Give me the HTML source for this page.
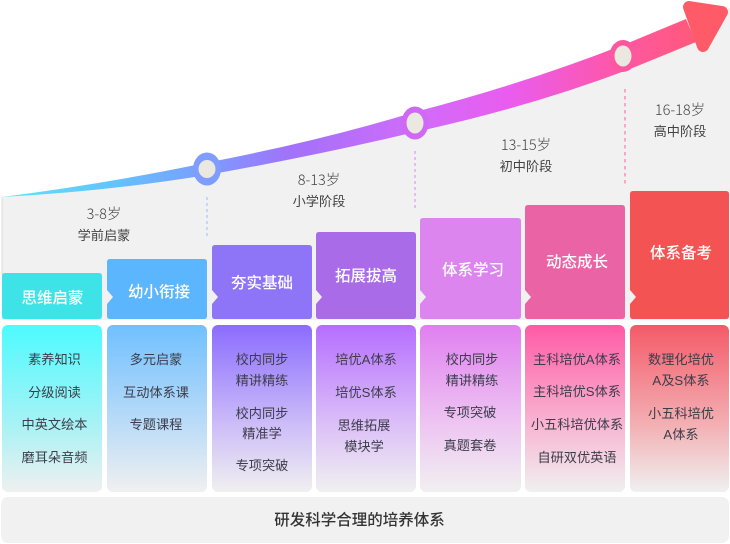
<!DOCTYPE html>
<html><head><meta charset="utf-8"><style>
html,body{margin:0;padding:0;background:#fff;width:730px;height:544px;overflow:hidden}
svg{display:block;filter:blur(0.35px)}
text{font-family:"Liberation Sans","Noto Sans CJK SC",sans-serif;text-anchor:middle}
.h{fill:#fff;font-size:15.5px;font-family:"Noto Sans CJK SC",sans-serif;font-weight:500}
.t{fill:#3d3d4a;font-size:13.2px}
.a{fill:#444;font-size:13.2px}
.n{fill:#444;font-size:14.5px;font-family:"Noto Sans CJK SC",sans-serif;font-weight:300}
</style></head><body>
<svg width="730" height="544" viewBox="0 0 730 544" xmlns="http://www.w3.org/2000/svg">
<defs>
<linearGradient id="arrow" gradientUnits="userSpaceOnUse" x1="0" y1="0" x2="730" y2="0">
<stop offset="0" stop-color="#5fe6f5"/><stop offset=".15" stop-color="#62c4fc"/><stop offset=".28" stop-color="#7b9dff"/><stop offset=".4" stop-color="#a271fa"/><stop offset=".57" stop-color="#d06cfa"/><stop offset=".7" stop-color="#ea5cee"/><stop offset=".85" stop-color="#ff57a5"/><stop offset="1" stop-color="#ff5a68"/>
</linearGradient>
<linearGradient id="g1" x1="0" y1="0" x2="0" y2="1"><stop offset="0" stop-color="#4dfbff"/><stop offset=".6" stop-color="#a8f2f5"/><stop offset="1" stop-color="#f0f0f0"/></linearGradient>
<linearGradient id="g2" x1="0" y1="0" x2="0" y2="1"><stop offset="0" stop-color="#70c0ff"/><stop offset=".6" stop-color="#bcdcf7"/><stop offset="1" stop-color="#f0f0f0"/></linearGradient>
<linearGradient id="g3" x1="0" y1="0" x2="0" y2="1"><stop offset="0" stop-color="#8b6cff"/><stop offset=".6" stop-color="#cdbdf8"/><stop offset="1" stop-color="#f0f0f0"/></linearGradient>
<linearGradient id="g4" x1="0" y1="0" x2="0" y2="1"><stop offset="0" stop-color="#b56eff"/><stop offset=".6" stop-color="#dcc0f8"/><stop offset="1" stop-color="#f0f0f0"/></linearGradient>
<linearGradient id="g5" x1="0" y1="0" x2="0" y2="1"><stop offset="0" stop-color="#e07ff0"/><stop offset=".6" stop-color="#eec6f2"/><stop offset="1" stop-color="#f0f0f0"/></linearGradient>
<linearGradient id="g6" x1="0" y1="0" x2="0" y2="1"><stop offset="0" stop-color="#ff5aa5"/><stop offset=".6" stop-color="#f8b6d2"/><stop offset="1" stop-color="#f0f0f0"/></linearGradient>
<linearGradient id="g7" x1="0" y1="0" x2="0" y2="1"><stop offset="0" stop-color="#f45a68"/><stop offset=".6" stop-color="#f3b0b4"/><stop offset="1" stop-color="#f0f0f0"/></linearGradient>
</defs>

<path d="M2 197 Q110 186 207 168 Q320 148 415 122 Q530 92 624 55 L690 28 L730 8 L730 320 L2 320 Z" fill="#f1f1f1"/>
<path d="M2 197 V275" stroke="#dcdcdc" stroke-width="1"/>

<line x1="207" y1="197" x2="207" y2="238" stroke="#b4c4ff" stroke-width="1.3" stroke-dasharray="3 3"/>
<line x1="415" y1="151" x2="415" y2="208" stroke="#e6a8f8" stroke-width="1.5" stroke-dasharray="3 3"/>
<line x1="625" y1="89" x2="625" y2="184" stroke="#ff8cbc" stroke-width="1.5" stroke-dasharray="3.5 3.5"/>

<path d="M2 197 Q110 183 205 163 Q320 141 415 112 Q530 82 628 43 L686 19 L696 42 L630 69 Q530 107 415 132 Q320 155 207 175 Q110 191 2 197 Z" fill="url(#arrow)"/>
<path d="M689 7 L722 12 L703 46 Z" fill="#ff5a68" stroke="#ff5a68" stroke-width="12" stroke-linejoin="round"/>
<ellipse cx="207" cy="169" rx="14" ry="16.5" fill="#7f9cff"/><ellipse cx="207" cy="169" rx="8.5" ry="9" fill="#ebe8df"/>
<ellipse cx="415" cy="123" rx="13.5" ry="16.5" fill="#cf68f4"/><ellipse cx="415" cy="123" rx="8.5" ry="10.5" fill="#ebe8df"/>
<ellipse cx="623" cy="56" rx="13.5" ry="16" fill="#ff579f"/><ellipse cx="623" cy="56" rx="8.5" ry="10.5" fill="#ebe8df"/>

<text class="n" x="104" y="219">3-8岁</text><text class="a" x="104" y="240">学前启蒙</text>
<text class="n" x="319" y="185">8-13岁</text><text class="a" x="319" y="206">小学阶段</text>
<text class="n" x="526" y="150">13-15岁</text><text class="a" x="526" y="171">初中阶段</text>
<text class="n" x="680" y="115">16-18岁</text><text class="a" x="680" y="136">高中阶段</text>

<path d="M2 276 Q2 273 5 273 H99 Q102 273 102 276 V316 Q102 319 99 319 H5 Q2 319 2 316 Z" fill="#3ee3e8"/>
<path d="M107 262 Q107 259 110 259 H204 Q207 259 207 262 V316 Q207 319 204 319 H110 Q107 319 107 316 V304 L113 297 L107 290 Z" fill="#5cb6fd"/>
<path d="M212 248 Q212 245 215 245 H309 Q312 245 312 248 V316 Q312 319 309 319 H215 Q212 319 212 316 V304 L218 297 L212 290 Z" fill="#8e74f6"/>
<path d="M316 235 Q316 232 319 232 H413 Q416 232 416 235 V316 Q416 319 413 319 H319 Q316 319 316 316 V304 L322 297 L316 290 Z" fill="#a96be8"/>
<path d="M420 221 Q420 218 423 218 H518 Q521 218 521 221 V316 Q521 319 518 319 H423 Q420 319 420 316 V304 L426 297 L420 290 Z" fill="#dd85ee"/>
<path d="M525 208 Q525 205 528 205 H622 Q625 205 625 208 V316 Q625 319 622 319 H528 Q525 319 525 316 V304 L531 297 L525 290 Z" fill="#ea64a5"/>
<path d="M630 194 Q630 191 633 191 H726 Q729 191 729 194 V316 Q729 319 726 319 H633 Q630 319 630 316 V304 L636 297 L630 290 Z" fill="#f45353"/>

<text class="h" x="52.500" y="303">思维启蒙</text>
<text class="h" x="159" y="297">幼小衔接</text>
<text class="h" x="262" y="288">夯实基础</text>
<text class="h" x="366" y="281">拓展拔高</text>
<text class="h" x="473" y="275">体系学习</text>
<text class="h" x="577" y="267">动态成长</text>
<text class="h" x="681" y="258">体系备考</text>

<rect x="2" y="325" width="100" height="167" rx="6" fill="url(#g1)"/>
<rect x="107" y="325" width="100" height="167" rx="6" fill="url(#g2)"/>
<rect x="212" y="325" width="100" height="167" rx="6" fill="url(#g3)"/>
<rect x="316" y="325" width="100" height="167" rx="6" fill="url(#g4)"/>
<rect x="420" y="325" width="101" height="167" rx="6" fill="url(#g5)"/>
<rect x="525" y="325" width="100" height="167" rx="6" fill="url(#g6)"/>
<rect x="630" y="325" width="99" height="167" rx="6" fill="url(#g7)"/>

<text class="t" x="54.500" y="364">素养知识</text><text class="t" x="54.500" y="397">分级阅读</text><text class="t" x="54.500" y="429">中英文绘本</text><text class="t" x="54.500" y="462">磨耳朵音频</text>
<text class="t" x="156" y="364">多元启蒙</text><text class="t" x="156" y="397">互动体系课</text><text class="t" x="156" y="429">专题课程</text>
<text class="t" x="262" y="364">校内同步</text><text class="t" x="262" y="385">精讲精练</text><text class="t" x="262" y="418">校内同步</text><text class="t" x="262" y="438">精准学</text><text class="t" x="262" y="470">专项突破</text>
<text class="t" x="366" y="364">培优A体系</text><text class="t" x="366" y="397">培优S体系</text><text class="t" x="364" y="430">思维拓展</text><text class="t" x="364" y="451">模块学</text>
<text class="t" x="472" y="364">校内同步</text><text class="t" x="472" y="385">精讲精练</text><text class="t" x="470" y="417">专项突破</text><text class="t" x="470" y="450">真题套卷</text>
<text class="t" x="577" y="364">主科培优A体系</text><text class="t" x="577" y="396">主科培优S体系</text><text class="t" x="577" y="429">小五科培优体系</text><text class="t" x="577" y="462">自研双优英语</text>
<text class="t" x="681" y="364">数理化培优</text><text class="t" x="681" y="385">A及S体系</text><text class="t" x="681" y="418">小五科培优</text><text class="t" x="681" y="439">A体系</text>

<rect x="1" y="497" width="728" height="46" rx="7" fill="#f1f1f1"/>
<text x="359.500" y="525" style="font-size:15.500px;font-weight:500;fill:#333;font-family:'Noto Sans CJK SC',sans-serif">研发科学合理的培养体系</text>
</svg>
</body></html>
